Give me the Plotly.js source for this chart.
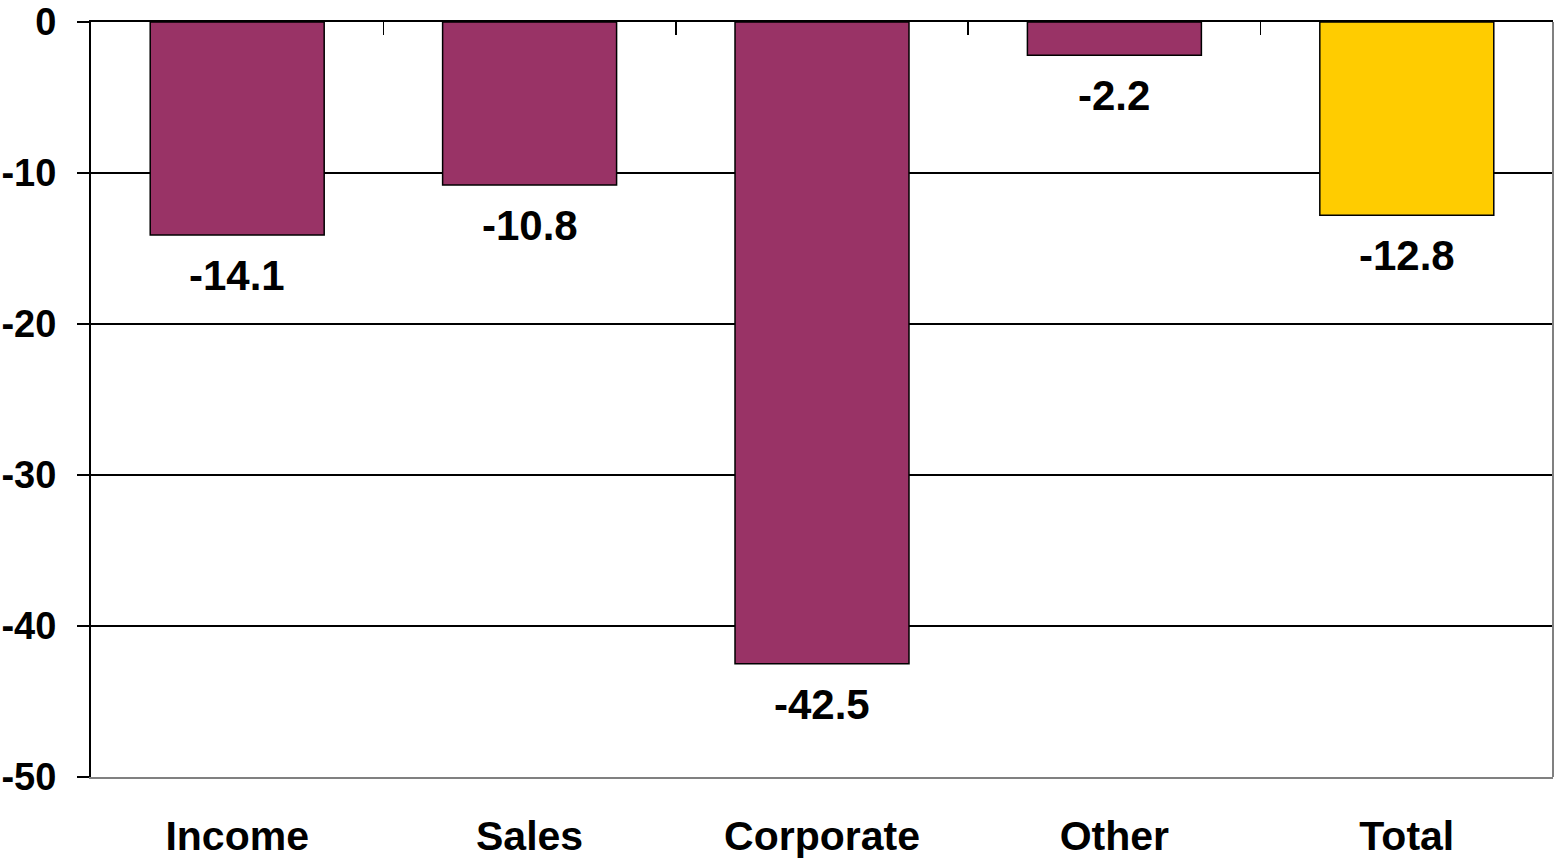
<!DOCTYPE html>
<html>
<head>
<meta charset="utf-8">
<script src="https://cdn.plot.ly/plotly-3.0.1.min.js"></script>
<style>html,body{margin:0;padding:0;background:#fff;}#chart{width:1554px;height:861px;}</style>
</head>
<body>
<div id="chart"></div>
<script>
const categories = ["Income", "Sales", "Corporate", "Other", "Total"];
const values = [-14.1, -10.8, -42.5, -2.2, -12.8];
const barColors = ["#993366", "#993366", "#993366", "#993366", "#FFCC00"];
const yTickVals = [0, -10, -20, -30, -40, -50];
const yTickText = ["0", "-10", "-20", "-30", "-40", "-50"];
const boundaryTicks = [0.5, 1.5, 2.5, 3.5];

const FONT = "Liberation Sans, Arial, sans-serif";

const traces = [
  {
    type: "bar",
    x: categories.map((c, i) => i),
    y: values,
    marker: { color: barColors, line: { color: "#000", width: 1.5 } },
    hoverinfo: "skip",
    showlegend: false
  },
  {
    type: "scatter",
    x: [0, 4],
    y: [0, 0],
    xaxis: "x2",
    yaxis: "y",
    mode: "markers",
    marker: { opacity: 0 },
    hoverinfo: "skip",
    showlegend: false
  }
];

const annotations = values.map((v, i) => ({
  x: i,
  y: v,
  xref: "x",
  yref: "y",
  text: "<b>" + v.toFixed(1) + "</b>",
  showarrow: false,
  yanchor: "top",
  xanchor: "center",
  yshift: -15,
  font: { family: FONT, size: 42, color: "#000" }
}));

const layout = {
  width: 1554,
  height: 861,
  margin: { l: 91, r: 1, t: 22, b: 84 },
  paper_bgcolor: "#fff",
  plot_bgcolor: "#fff",
  bargap: 0.405,
  font: { family: FONT, color: "#000" },
  xaxis: {
    range: [-0.5, 4.5],
    tickvals: categories.map((c, i) => i),
    ticktext: categories.map(c => "<b>" + c + "</b>"),
    tickfont: { family: FONT, size: 41, color: "#000" },
    ticks: "",
    showgrid: false,
    zeroline: false,
    showline: true,
    linecolor: "#808080",
    linewidth: 2,
    ticklabelstandoff: 22,
    ticklabeloverflow: "allow",
    fixedrange: true
  },
  xaxis2: {
    overlaying: "x",
    side: "top",
    anchor: "y",
    range: [-0.5, 4.5],
    tickvals: boundaryTicks,
    ticks: "inside",
    ticklen: 13,
    tickwidth: 1.5,
    tickcolor: "#000",
    showticklabels: false,
    showgrid: false,
    zeroline: false,
    showline: true,
    linecolor: "#000",
    linewidth: 2,
    fixedrange: true
  },
  yaxis: {
    range: [-50, 0],
    tickvals: yTickVals,
    ticktext: yTickText.map(t => "<b>" + t + "</b>"),
    tickfont: { family: FONT, size: 38, color: "#000" },
    ticks: "outside",
    ticklen: 12,
    tickwidth: 1.5,
    tickcolor: "#000",
    showgrid: true,
    gridcolor: "#000",
    gridwidth: 1.2,
    zeroline: false,
    showline: true,
    linecolor: "#000",
    linewidth: 2,
    ticklabelstandoff: 13,
    ticklabeloverflow: "allow",
    fixedrange: true
  },
  shapes: [
    {
      type: "line", xref: "paper", yref: "paper",
      x0: 1, x1: 1, y0: 0, y1: 1,
      line: { color: "#808080", width: 2 },
      layer: "above"
    }
  ],
  annotations: annotations
};

Plotly.newPlot("chart", traces, layout, { displayModeBar: false, staticPlot: true });
</script>
</body>
</html>
